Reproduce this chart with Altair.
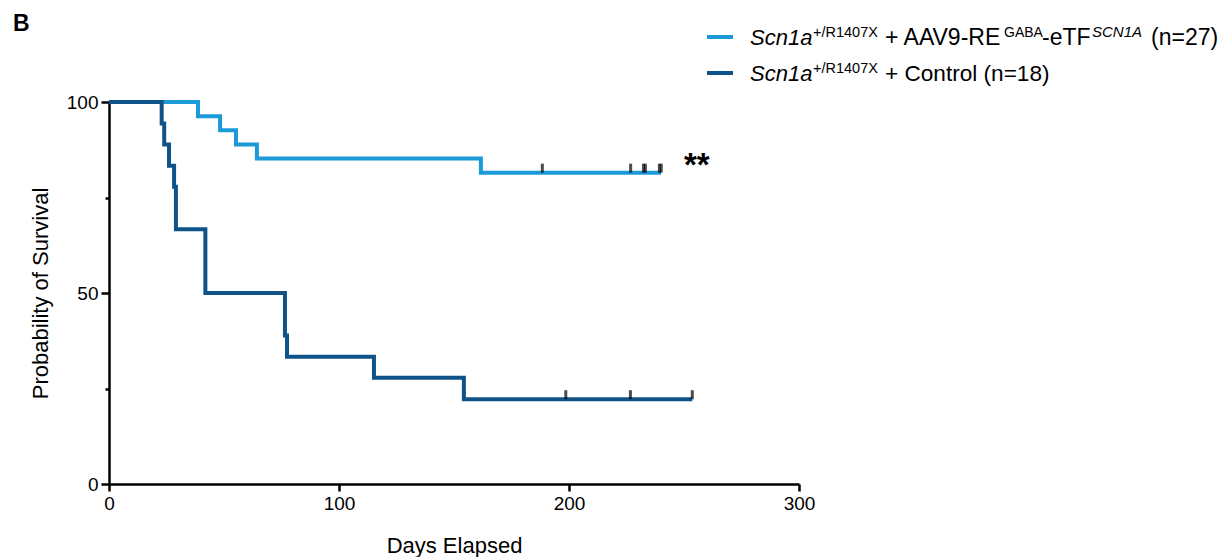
import altair as alt
import pandas as pd

# ---- data ----
treat_time = [0, 38.7, 48.3, 55.2, 64.3, 161.7, 240.0]
treat_surv = [100, 96.3, 92.6, 88.9, 85.2, 81.5, 81.5]
ctrl_time = [0, 22.9, 24.0, 26.1, 28.3, 29.1, 41.9, 76.5, 77.4, 115.2, 154.3, 253.6]
ctrl_surv = [100, 94.4, 88.9, 83.3, 77.8, 66.7, 50.0, 38.9, 33.3, 27.8, 22.2, 22.2]
treat_cens_time = [188.4, 226.8, 232.4, 233.2, 239.3, 240.1]
treat_cens_surv = [81.5, 81.5, 81.5, 81.5, 81.5, 81.5]
ctrl_cens_time = [198.6, 226.7, 253.6]
ctrl_cens_surv = [22.2, 22.2, 22.2]

groups = ["AAV9", "Control"]
colors = ["#1B9AD7", "#0F5388"]

FONT = "Liberation Sans, Arial, sans-serif"

curves = pd.concat([
    pd.DataFrame({"t": treat_time, "s": treat_surv, "g": groups[0], "o": 0}),
    pd.DataFrame({"t": ctrl_time, "s": ctrl_surv, "g": groups[1], "o": 1}),
])
cens = pd.DataFrame({"t": treat_cens_time + ctrl_cens_time,
                     "s": treat_cens_surv + ctrl_cens_surv})

xscale = alt.Scale(domain=[0, 300], nice=False, zero=False)
yscale = alt.Scale(domain=[0, 100], nice=False)

xaxis = alt.Axis(values=[0, 100, 200, 300], title="Days Elapsed", grid=False,
                 domainColor="black", domainWidth=2.5, tickColor="black", tickWidth=2.5,
                 tickSize=7, labelPadding=3, labelFont=FONT, labelFontSize=19,
                 labelColor="black", titleFont=FONT, titleFontSize=22,
                 titleFontWeight="normal", titleColor="black",
                 titleY=68, titleBaseline="alphabetic", labelFlush=False)
yaxis = alt.Axis(values=[0, 25, 50, 75, 100], title="Probability of Survival", grid=False,
                 labelExpr="datum.value % 50 === 0 ? datum.label : ''",
                 tickSize={"condition": {"test": "datum.value % 50 === 0", "value": 8}, "value": 4},
                 domainColor="black", domainWidth=2.5, tickColor="black", tickWidth=2.5,
                 labelPadding=3, labelFont=FONT, labelFontSize=19, labelColor="black",
                 titleFont=FONT, titleFontSize=22, titleFontWeight="normal",
                 titleColor="black", titleX=-62, titleY=191, titleAngle=-90,
                 titleBaseline="alphabetic", titleAlign="center", labelFlush=False)

dummy = pd.DataFrame({"a": [0]})

# white masks over the faint frame on the top and right edges (drawn beneath the curves)
mask_top = alt.Chart(dummy).mark_rule(color="white", strokeWidth=3).encode(
    x=alt.value(1.5), x2=alt.value(693), y=alt.value(0))
mask_right = alt.Chart(dummy).mark_rule(color="white", strokeWidth=3).encode(
    x=alt.value(690), y=alt.value(-2), y2=alt.value(380))

lines = alt.Chart(curves).mark_line(interpolate="step-after", strokeWidth=4,
                                    strokeJoin="miter", strokeCap="butt").encode(
    x=alt.X("t:Q", scale=xscale, axis=xaxis),
    y=alt.Y("s:Q", scale=yscale, axis=yaxis),
    color=alt.Color("g:N", scale=alt.Scale(domain=groups, range=colors), legend=None),
    order="o:Q",
    detail="g:N",
)

ticks = alt.Chart(cens).mark_tick(orient="vertical", color="black", size=9,
                                  thickness=3, yOffset=-4.5).encode(
    x=alt.X("t:Q", scale=xscale, axis=xaxis),
    y=alt.Y("s:Q", scale=yscale, axis=yaxis),
)


def txt(s, x, y, size=23, style="normal", weight="normal"):
    return alt.Chart(dummy).mark_text(text=s, align="left", baseline="alphabetic",
                                      font=FONT, fontSize=size, fontStyle=style,
                                      fontWeight=weight, color="black").encode(
        x=alt.value(x), y=alt.value(y))


def sym(color, y):
    return alt.Chart(dummy).mark_rule(color=color, strokeWidth=4).encode(
        x=alt.value(598), x2=alt.value(624), y=alt.value(y))


legend = [
    sym(colors[0], -65),
    sym(colors[1], -29),
    txt("Scn1a", 641, -57, size=22, style="italic"),
    txt("+/R1407X", 704, -65, size=14.5),
    txt("+ AAV9-RE", 776, -57),
    txt("GABA", 895, -65, size=14),
    txt("-eTF", 933, -57),
    txt("SCN1A", 983, -65, size=15, style="italic"),
    txt("(n=27)", 1042, -57),
    txt("Scn1a", 641, -21, size=22, style="italic"),
    txt("+/R1407X", 704, -29, size=14.5),
    txt("+ Control (n=18)", 776, -21, size=22.6),
    txt("B", -96, -71, size=23, weight="bold"),
    txt("**", 575, 74, size=33, weight="bold"),
]

chart = alt.layer(mask_top, mask_right, lines, ticks, *legend).properties(
    width=690, height=382,
    background="white",
    autosize=alt.AutoSizeParams(type="none"),
    padding={"left": 101, "top": 94, "right": 423, "bottom": 73},
).configure(
    view=alt.ViewConfig(stroke="transparent", strokeWidth=0),
    axis=alt.AxisConfig(grid=False, gridOpacity=0, gridColor="white"),
    style={"cell": {"stroke": "transparent", "strokeWidth": 0}},
)

chart.save("out.html", embed_options={"renderer": "svg", "actions": False})
